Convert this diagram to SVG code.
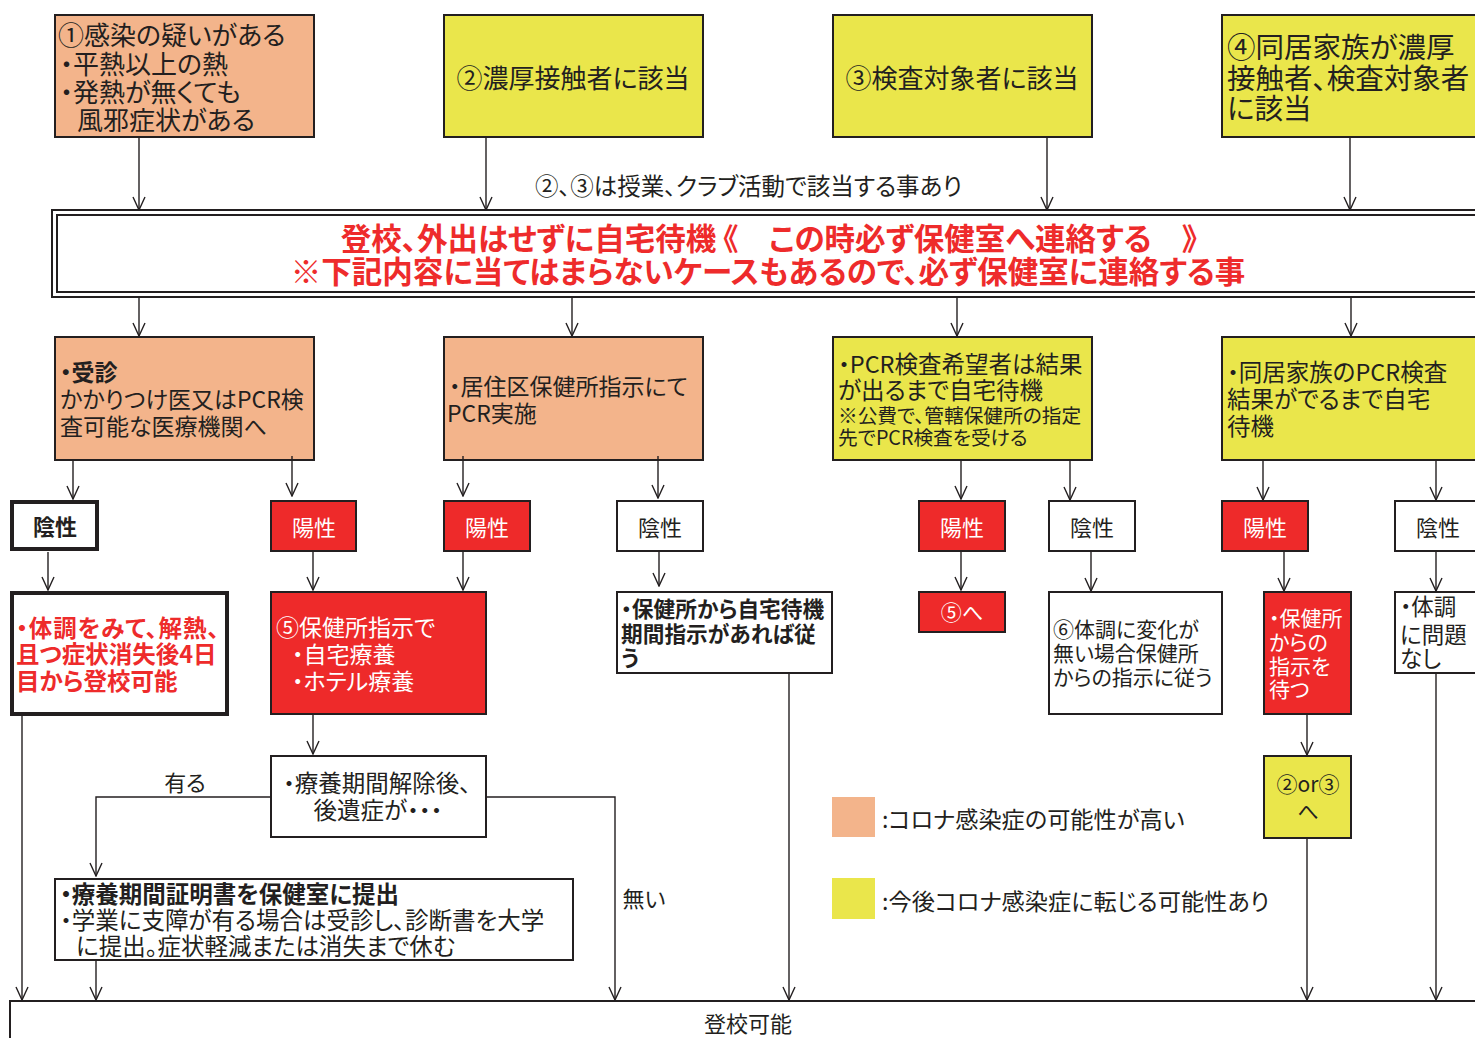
<svg xmlns="http://www.w3.org/2000/svg" width="1475" height="1038" viewBox="0 0 1475 1038">
<defs>
<marker id="ah" markerUnits="userSpaceOnUse" viewBox="-1 -8 15 16" refX="13" refY="0" markerWidth="15" markerHeight="16" orient="auto">
<path d="M0,-6 L13,0 L0,6" fill="none" stroke="#231F20" stroke-width="1.4"/>
</marker>
<style>
.bx{stroke:#231F20;stroke-width:2}
.tk{stroke:#231F20;stroke-width:4}
.s{fill:#F3B48B}.y{fill:#EAE64B}.r{fill:#EE2A2A}.w{fill:#FFFFFF}
text{font-family:"Noto Sans CJK JP","Noto Sans",sans-serif;dominant-baseline:central;fill:#231F20;font-feature-settings:"palt"}
.wt{fill:#FFFFFF}.rt{fill:#EE2B2B}.b{font-weight:bold}
.mid{text-anchor:middle}
.c line,.c polyline{stroke:#231F20;stroke-width:1.4;fill:none;marker-end:url(#ah)}
</style>
</defs>
<rect x="0" y="0" width="1475" height="1038" fill="#FFFFFF"/>

<g id="n1"><rect class="bx s" x="55" y="15" width="259" height="122"/>
<text font-size="26"><tspan x="58" y="33">①感染の疑いがある</tspan><tspan x="60" y="62">・平熱以上の熱</tspan><tspan x="60" y="90">・発熱が無くても</tspan><tspan x="77" y="118">風邪症状がある</tspan></text></g>

<g id="n2"><rect class="bx y" x="444" y="15" width="259" height="122"/>
<text class="mid" x="573" y="76" font-size="26">②濃厚接触者に該当</text></g>

<g id="n3"><rect class="bx y" x="833" y="15" width="259" height="122"/>
<text class="mid" x="962" y="76" font-size="26">③検査対象者に該当</text></g>

<g id="n4"><rect class="bx y" x="1222" y="15" width="262" height="122"/>
<text font-size="28.5"><tspan x="1227" y="45">④同居家族が濃厚</tspan><tspan x="1227" y="76">接触者、検査対象者</tspan><tspan x="1227" y="106">に該当</tspan></text></g>

<g id="note"><text x="535" y="185" font-size="23.5">②、③は授業、クラブ活動で該当する事あり</text></g>

<g id="banner"><rect class="bx w" x="52" y="210" width="1440" height="87"/>
<rect class="bx" fill="none" x="57" y="215" width="1440" height="77"/>
<text class="rt b" font-size="30.5"><tspan class="mid" x="769" y="237">登校、外出はせずに自宅待機 《　この時必ず保健室へ連絡する　》</tspan><tspan class="mid" x="768" y="270">※下記内容に当てはまらないケースもあるので、必ず保健室に連絡する事</tspan></text></g>

<g id="nA"><rect class="bx s" x="55" y="337" width="259" height="123"/>
<text font-size="23"><tspan class="b" x="60" y="371">・受診</tspan><tspan x="60" y="398">かかりつけ医又はPCR検</tspan><tspan x="60" y="425">査可能な医療機関へ</tspan></text></g>

<g id="nB"><rect class="bx s" x="444" y="337" width="259" height="123"/>
<text font-size="23"><tspan x="449" y="385">・居住区保健所指示にて</tspan><tspan x="447" y="412">PCR実施</tspan></text></g>

<g id="nC"><rect class="bx y" x="833" y="337" width="259" height="123"/>
<text font-size="23.5"><tspan x="838" y="363">・PCR検査希望者は結果</tspan><tspan x="838" y="389">が出るまで自宅待機</tspan><tspan x="838" y="414" font-size="19.7">※公費で、管轄保健所の指定</tspan><tspan x="838" y="436" font-size="19.7">先でPCR検査を受ける</tspan></text></g>

<g id="nD"><rect class="bx y" x="1222" y="337" width="262" height="123"/>
<text font-size="23.5"><tspan x="1227" y="371">・同居家族のPCR検査</tspan><tspan x="1227" y="398">結果がでるまで自宅</tspan><tspan x="1227" y="425">待機</tspan></text></g>

<g id="neg1"><rect class="tk w" x="12" y="502" width="85" height="47"/>
<text class="mid b" x="55" y="525" font-size="22">陰性</text></g>
<g id="pos1"><rect class="bx r" x="271" y="501" width="85" height="50"/>
<text class="mid wt" x="314" y="526" font-size="22">陽性</text></g>
<g id="pos2"><rect class="bx r" x="444" y="501" width="86" height="50"/>
<text class="mid wt" x="487" y="526" font-size="22">陽性</text></g>
<g id="neg2"><rect class="bx w" x="617" y="501" width="86" height="50"/>
<text class="mid" x="660" y="526" font-size="22">陰性</text></g>
<g id="pos3"><rect class="bx r" x="919" y="501" width="86" height="50"/>
<text class="mid wt" x="962" y="526" font-size="22">陽性</text></g>
<g id="neg3"><rect class="bx w" x="1049" y="501" width="86" height="50"/>
<text class="mid" x="1092" y="526" font-size="22">陰性</text></g>
<g id="pos4"><rect class="bx r" x="1222" y="501" width="86" height="50"/>
<text class="mid wt" x="1265" y="526" font-size="22">陽性</text></g>
<g id="neg4"><rect class="bx w" x="1395" y="501" width="90" height="50"/>
<text class="mid" x="1438" y="526" font-size="22">陰性</text></g>

<g id="t1"><rect class="tk w" x="12" y="593" width="215" height="121"/>
<text class="rt b" font-size="23.5"><tspan x="16" y="627" letter-spacing="1">・体調をみて、解熱、</tspan><tspan x="16" y="653">且つ症状消失後4日</tspan><tspan x="16" y="680">目から登校可能</tspan></text></g>

<g id="r5"><rect class="bx r" x="271" y="592" width="215" height="122"/>
<text class="wt" font-size="23"><tspan x="276" y="626">⑤保健所指示で</tspan><tspan x="292" y="653">・自宅療養</tspan><tspan x="292" y="680">・ホテル療養</tspan></text></g>

<g id="h1"><rect class="bx w" x="617" y="592" width="215" height="81"/>
<text class="b" font-size="21.7"><tspan x="621" y="607">・保健所から自宅待機</tspan><tspan x="621" y="632">期間指示があれば従</tspan><tspan x="621" y="656">う</tspan></text></g>

<g id="to5"><rect class="bx r" x="919" y="592" width="86" height="40"/>
<text class="mid wt" x="962" y="611" font-size="21">⑤へ</text></g>

<g id="s6"><rect class="bx w" x="1049" y="592" width="173" height="122"/>
<text font-size="21"><tspan x="1053" y="628">⑥体調に変化が</tspan><tspan x="1053" y="652">無い場合保健所</tspan><tspan x="1053" y="676">からの指示に従う</tspan></text></g>

<g id="r7"><rect class="bx r" x="1264" y="592" width="87" height="122"/>
<text class="wt" font-size="21"><tspan x="1269" y="617">・保健所</tspan><tspan x="1269" y="641">からの</tspan><tspan x="1269" y="665">指示を</tspan><tspan x="1269" y="688">待つ</tspan></text></g>

<g id="h2"><rect class="bx w" x="1395" y="592" width="90" height="81"/>
<text font-size="22.5"><tspan x="1400" y="605">・体調</tspan><tspan x="1400" y="633">に問題</tspan><tspan x="1400" y="657">なし</tspan></text></g>

<g id="q"><rect class="bx w" x="271" y="756" width="215" height="81"/>
<text font-size="23.5"><tspan class="mid" x="377" y="782">・療養期間解除後、</tspan><tspan class="mid" x="378" y="809">後遺症が・・・</tspan></text></g>

<g id="c23"><rect class="bx y" x="1264" y="756" width="87" height="82"/>
<text font-size="21"><tspan class="mid" x="1308" y="783">②or③</tspan><tspan class="mid" x="1308" y="810">へ</tspan></text></g>

<g id="cert"><rect class="bx w" x="55" y="879" width="518" height="81"/>
<text font-size="23.5"><tspan class="b" x="60" y="893">・療養期間証明書を保健室に提出</tspan><tspan x="60" y="919">・学業に支障が有る場合は受診し、診断書を大学</tspan><tspan x="76" y="945">に提出。症状軽減または消失まで休む</tspan></text></g>

<g id="legend">
<rect class="s" x="832" y="797" width="43" height="40"/>
<text x="882" y="818" font-size="23.2">:コロナ感染症の可能性が高い</text>
<rect class="y" x="832" y="878" width="43" height="41"/>
<text x="882" y="900" font-size="23.2">:今後コロナ感染症に転じる可能性あり</text>
</g>

<g id="ok"><rect class="bx w" x="10" y="1001" width="1480" height="50"/>
<text class="mid" x="748" y="1022" font-size="22">登校可能</text></g>

<g id="labels">
<text class="mid" x="185" y="781" font-size="22">有る</text>
<text class="mid" x="644" y="897" font-size="22">無い</text>
</g>

<g class="c" id="connectors">
<line x1="139" y1="138" x2="139" y2="210"/>
<line x1="486" y1="138" x2="486" y2="210"/>
<line x1="1047" y1="138" x2="1047" y2="210"/>
<line x1="1350" y1="138" x2="1350" y2="210"/>
<line x1="139" y1="298" x2="139" y2="336"/>
<line x1="572" y1="298" x2="572" y2="336"/>
<line x1="957" y1="298" x2="957" y2="336"/>
<line x1="1351" y1="298" x2="1351" y2="336"/>
<line x1="73" y1="461" x2="73" y2="499"/>
<line x1="292" y1="456" x2="292" y2="496"/>
<line x1="463" y1="456" x2="463" y2="496"/>
<line x1="658" y1="456" x2="658" y2="498"/>
<line x1="961" y1="461" x2="961" y2="499"/>
<line x1="1070" y1="461" x2="1070" y2="500"/>
<line x1="1263" y1="461" x2="1263" y2="500"/>
<line x1="1436" y1="461" x2="1436" y2="500"/>
<line x1="48" y1="552" x2="48" y2="590"/>
<line x1="313" y1="552" x2="313" y2="590"/>
<line x1="463" y1="552" x2="463" y2="590"/>
<line x1="659" y1="552" x2="659" y2="586"/>
<line x1="961" y1="552" x2="961" y2="590"/>
<line x1="1091" y1="552" x2="1091" y2="591"/>
<line x1="1284" y1="552" x2="1284" y2="591"/>
<line x1="1436" y1="552" x2="1436" y2="591"/>
<line x1="313" y1="715" x2="313" y2="754"/>
<polyline points="271,797 96,797 96,876"/>
<polyline points="486,797 615,797 615,1000"/>
<line x1="96" y1="961" x2="96" y2="1000"/>
<line x1="22" y1="716" x2="22" y2="1000"/>
<line x1="789" y1="674" x2="789" y2="1000"/>
<line x1="1307" y1="715" x2="1307" y2="755"/>
<line x1="1307" y1="839" x2="1307" y2="1000"/>
<line x1="1436" y1="674" x2="1436" y2="1000"/>
</g>
</svg>
